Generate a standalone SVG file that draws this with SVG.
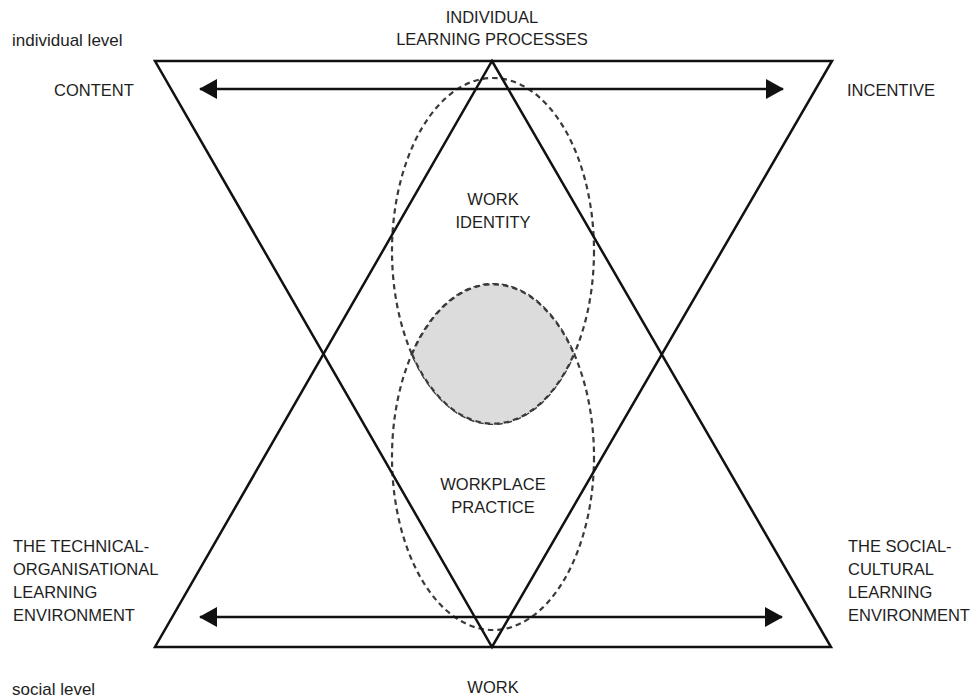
<svg xmlns="http://www.w3.org/2000/svg" width="971" height="700" viewBox="0 0 971 700">
  <defs>
    <marker id="arrowhead" viewBox="0 0 18 20" refX="17" refY="10" markerWidth="18" markerHeight="20" markerUnits="userSpaceOnUse" orient="auto-start-reverse">
      <path d="M0,0 L18,10 L0,20 Z" fill="#111"/>
    </marker>
  </defs>
  <style>
    .tri { fill: none; stroke: #111; stroke-width: 2.5; stroke-linejoin: miter; }
    .axis { fill: none; stroke: #111; stroke-width: 2.5; }
    .zone { fill: none; stroke: #3a3a3a; stroke-width: 2.2; stroke-dasharray: 5.5 4; }
    .core { fill: #dcdcdc; stroke: #3a3a3a; stroke-width: 2.2; stroke-dasharray: 5.5 4; }
    text { font-family: "Liberation Sans", Arial, sans-serif; font-size: 16.5px; fill: #1e1e1e; }
    .mid { text-anchor: middle; }
    .lvl { font-size: 17px; }
  </style>

  <rect width="971" height="700" fill="#fff"/>

  <!-- overlapping zones: identity (upper) and practice (lower), shared core shaded -->
  <g id="zone-identity">
    <ellipse class="zone" cx="493" cy="251" rx="101" ry="173"/>
  </g>
  <g id="zone-practice">
    <ellipse class="zone" cx="493" cy="457" rx="101" ry="173"/>
  </g>
  <g id="zone-core">
    <path class="core" d="M412,354 A101,173 0 0,0 574,354 A101,173 0 0,0 412,354 Z"/>
  </g>

  <!-- the two triangles -->
  <g id="triangle-down">
    <polygon class="tri" points="155,61 832,61 492,647"/>
  </g>
  <g id="triangle-up">
    <polygon class="tri" points="492,61 831,647 155,647"/>
  </g>

  <!-- double-headed axes -->
  <g id="connectors">
    <line class="axis" x1="200" y1="89" x2="783" y2="89" marker-start="url(#arrowhead)" marker-end="url(#arrowhead)"/>
    <line class="axis" x1="200" y1="617" x2="782" y2="617" marker-start="url(#arrowhead)" marker-end="url(#arrowhead)"/>
  </g>

  <!-- labels -->
  <g id="label-individual-level"><text class="lvl" x="12" y="46">individual level</text></g>
  <g id="label-social-level"><text class="lvl" x="12" y="695">social level</text></g>
  <g id="label-learning-processes">
    <text class="mid" x="492" y="23">INDIVIDUAL</text>
    <text class="mid" x="492" y="45">LEARNING PROCESSES</text>
  </g>
  <g id="label-content"><text x="54" y="96">CONTENT</text></g>
  <g id="label-incentive"><text x="847" y="96">INCENTIVE</text></g>
  <g id="label-work-identity">
    <text class="mid" x="493" y="205">WORK</text>
    <text class="mid" x="493" y="228">IDENTITY</text>
  </g>
  <g id="label-workplace-practice">
    <text class="mid" x="493" y="490">WORKPLACE</text>
    <text class="mid" x="493" y="513">PRACTICE</text>
  </g>
  <g id="label-technical">
    <text x="13" y="552">THE TECHNICAL-</text>
    <text x="13" y="575">ORGANISATIONAL</text>
    <text x="13" y="598">LEARNING</text>
    <text x="13" y="621">ENVIRONMENT</text>
  </g>
  <g id="label-social">
    <text x="848" y="552">THE SOCIAL-</text>
    <text x="848" y="575">CULTURAL</text>
    <text x="848" y="598">LEARNING</text>
    <text x="848" y="621">ENVIRONMENT</text>
  </g>
  <g id="label-work"><text class="mid" x="493" y="693">WORK</text></g>
</svg>
